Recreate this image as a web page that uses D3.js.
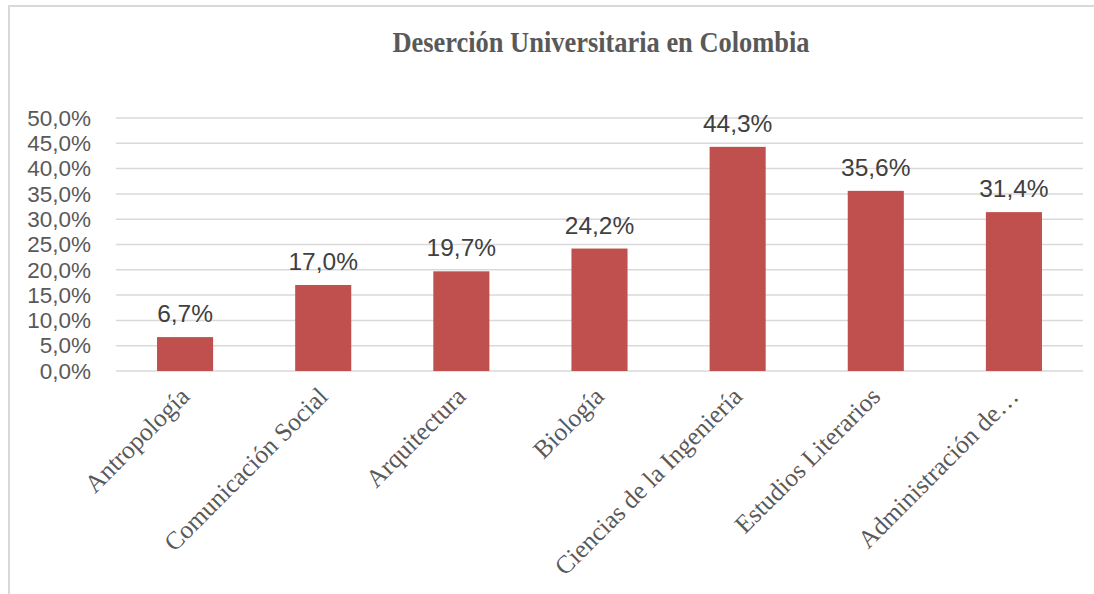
<!DOCTYPE html>
<html>
<head>
<meta charset="utf-8">
<script src="https://cdn.jsdelivr.net/npm/d3@7"></script>
<style>
  body { margin: 0; background: #fff; }
  svg { display: block; }
</style>
</head>
<body>
<div id="chart"></div>
<script>
// data
const categories = ['Antropología', 'Comunicación Social', 'Arquitectura', 'Biología',
    'Ciencias de la Ingeniería', 'Estudios Literarios', 'Administración de…'];
const values = [6.7, 17.0, 19.7, 24.2, 44.3, 35.6, 31.4];
const yTicks = [0, 5, 10, 15, 20, 25, 30, 35, 40, 45, 50];
const title = 'Deserción Universitaria en Colombia';

const W = 1094, H = 594;
const margin = {top: 118, right: 11, bottom: 223, left: 116};
const width = W - margin.left - margin.right;
const height = H - margin.top - margin.bottom;

const svg = d3.select('#chart').append('svg')
    .attr('width', W)
    .attr('height', H);

// frame lines
svg.append('line')
    .attr('x1', 9).attr('x2', W).attr('y1', 6).attr('y2', 6)
    .attr('stroke', '#d9d9d9').attr('stroke-width', 2);
svg.append('line')
    .attr('x1', 9).attr('x2', 9).attr('y1', 5).attr('y2', H)
    .attr('stroke', '#d9d9d9').attr('stroke-width', 2);

svg.append('text')
    .attr('x', 601).attr('y', 52)
    .attr('text-anchor', 'middle')
    .attr('textLength', 417)
    .attr('lengthAdjust', 'spacingAndGlyphs')
    .style('font-family', '"Liberation Serif", "Times New Roman", serif')
    .style('font-weight', 'bold')
    .style('font-size', '29px')
    .attr('fill', '#595959')
    .text(title);

const g = svg.append('g')
    .attr('transform', 'translate(' + margin.left + ',' + margin.top + ')');

let xScale = d3.scaleBand()
    .domain(categories)
    .range([0, width])
    .paddingInner(0.594)
    .paddingOuter(0.297);

let yScale = d3.scaleLinear()
    .domain([0, 50])
    .range([height, 0]);

// gridlines
g.append('g')
    .selectAll('line')
    .data(yTicks)
    .join('line')
    .attr('x1', 0).attr('x2', width)
    .attr('y1', d => yScale(d)).attr('y2', d => yScale(d))
    .attr('stroke', '#d9d9d9')
    .attr('stroke-width', 1.5);

// y axis
let yAxis = d3.axisLeft(yScale)
    .tickValues(yTicks)
    .tickSize(0)
    .tickPadding(25)
    .tickFormat(d => d3.format('.1f')(d).replace('.', ',') + '%');

let yAxisGroup = g.append('g')
    .attr('class', 'axis y-axis')
    .call(yAxis);
yAxisGroup.select('.domain').remove();
yAxisGroup.selectAll('text')
    .style('font-family', '"Liberation Sans", Arial, sans-serif')
    .style('font-size', '22.5px')
    .attr('fill', '#595959');

// bars
g.append('g')
    .selectAll('rect')
    .data(values)
    .join('rect')
    .attr('x', (d, i) => xScale(categories[i]))
    .attr('y', d => yScale(d))
    .attr('width', xScale.bandwidth())
    .attr('height', d => height - yScale(d))
    .attr('fill', '#c0504d');

// data labels
g.append('g')
    .selectAll('text')
    .data(values)
    .join('text')
    .attr('x', (d, i) => xScale(categories[i]) + xScale.bandwidth() / 2)
    .attr('y', d => yScale(d) - 15)
    .attr('text-anchor', 'middle')
    .style('font-family', '"Liberation Sans", Arial, sans-serif')
    .style('font-size', '24.5px')
    .attr('fill', '#404040')
    .text(d => d3.format('.1f')(d).replace('.', ',') + '%');

// x axis labels
let xAxis = d3.axisBottom(xScale)
    .tickSize(0)
    .tickPadding(0);

let xAxisGroup = g.append('g')
    .attr('class', 'axis x-axis')
    .attr('transform', 'translate(0,' + height + ')')
    .call(xAxis);
xAxisGroup.select('.domain').remove();
xAxisGroup.selectAll('text')
    .attr('text-anchor', 'end')
    .attr('dy', null)
    .attr('y', null)
    .attr('transform', 'translate(6,27) rotate(-45)')
    .style('font-family', '"Liberation Serif", "Times New Roman", serif')
    .style('font-size', '25.5px')
    .attr('fill', '#595959');
</script>
</body>
</html>
